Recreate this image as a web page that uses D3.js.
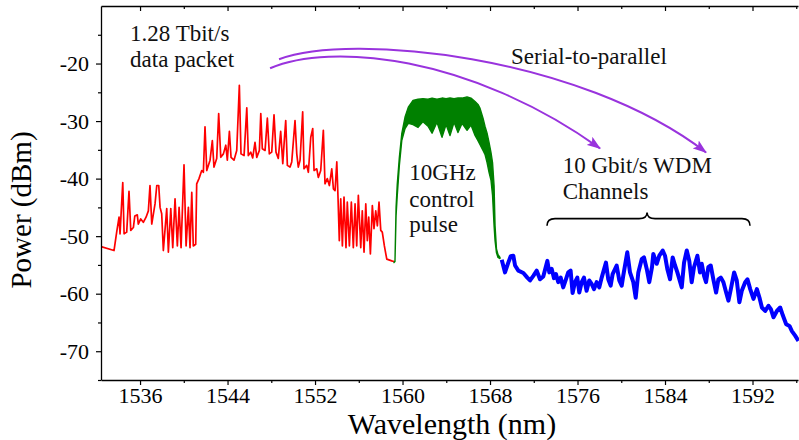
<!DOCTYPE html>
<html><head><meta charset="utf-8">
<script src="https://cdn.jsdelivr.net/npm/d3@7"></script>
<style>
html,body{margin:0;padding:0;background:#fff;}
svg{display:block;font-family:"Liberation Serif","Times New Roman",serif;}
</style></head><body>
<svg id="chart" width="799" height="440"></svg>
<script>
// ---- data ----
const redWavelength=[1532.43,1533.62,1533.87,1534.08,1534.17,1534.42,1534.54,1534.78,1534.99,1535.15,
1535.39,1535.52,1535.75,1535.84,1536.06,1536.30,1536.55,1536.76,1536.91,1537.07,
1537.37,1537.53,1537.71,1537.83,1537.98,1538.13,1538.44,1538.59,1538.81,1538.99,
1539.20,1539.41,1539.57,1539.75,1540.02,1540.21,1540.42,1540.57,1540.73,1540.87,
1541.09,1541.18,1541.39,1541.64,1541.79,1541.94,1542.10,1542.40,1542.61,1542.76,
1543.01,1543.19,1543.38,1543.62,1543.84,1543.98,1544.17,1544.32,1544.59,1544.84,
1545.08,1545.23,1545.51,1545.76,1545.90,1546.12,1546.30,1546.51,1546.67,1546.91,
1547.04,1547.18,1547.43,1547.64,1547.82,1548.04,1548.25,1548.43,1548.64,1548.86,
1549.05,1549.19,1549.32,1549.47,1549.71,1549.87,1550.17,1550.33,1550.47,1550.63,
1550.87,1550.99,1551.24,1551.39,1551.61,1551.79,1551.91,1552.16,1552.30,1552.52,
1552.76,1552.91,1553.12,1553.31,1553.53,1553.68,1553.83,1553.99,1554.10,1554.22,
1554.35,1554.50,1554.65,1554.83,1554.95,1555.14,1555.32,1555.50,1555.66,1555.81,
1555.96,1556.18,1556.32,1556.48,1556.64,1556.78,1556.91,1557.06,1557.24,1557.39,
1557.55,1557.70,1557.85,1558.01,1558.15,1558.34,1558.56,1559.01,1559.22];
const redPower=[-51.8,-52.5,-49.2,-46.7,-49.6,-40.7,-49.6,-49.3,-42.2,-49.0,
-48.5,-46.5,-46.3,-47.9,-47.0,-47.6,-46.7,-45.6,-41.2,-47.9,
-44.4,-41.2,-41.2,-45.0,-46.1,-52.5,-45.2,-52.8,-45.2,-52.0,
-43.5,-51.7,-45.0,-52.0,-37.6,-51.7,-45.0,-52.0,-42.4,-51.7,
-51.4,-40.9,-40.0,-38.6,-38.9,-31.0,-38.6,-36.8,-33.4,-38.0,
-36.5,-28.7,-36.3,-35.7,-34.2,-36.8,-31.8,-36.3,-36.8,-35.1,
-23.8,-35.7,-36.0,-27.7,-36.0,-35.4,-36.4,-33.7,-36.3,-35.1,
-28.7,-34.8,-35.1,-29.5,-35.7,-35.4,-28.9,-35.4,-36.5,-31.8,
-37.4,-33.4,-29.9,-37.7,-38.0,-37.1,-29.9,-35.7,-38.0,-36.8,
-28.4,-38.3,-37.7,-38.9,-32.8,-31.3,-38.6,-38.3,-39.8,-38.6,
-31.6,-40.9,-40.0,-41.2,-38.3,-41.8,-42.1,-37.1,-43.2,-50.8,
-43.5,-51.7,-43.2,-52.0,-44.1,-51.7,-44.1,-52.0,-44.4,-51.7,
-42.9,-52.0,-45.6,-52.8,-44.4,-50.8,-46.7,-53.1,-44.7,-48.7,
-45.6,-48.2,-44.1,-49.0,-49.3,-51.7,-54.0,-54.3,-54.4];

const greenWavelength=[1559.22,1559.31,1559.41,1559.52,1559.71,1559.93,1560.23,1560.53,1560.96,1561.42,
1561.87,1562.33,1562.70,1563.15,1563.61,1563.98,1564.34,1564.71,1565.07,1565.44,
1565.90,1566.26,1566.63,1566.90,1567.09,1567.36,1567.54,1567.73,1567.91,1568.09,
1568.23,1568.37,1568.46,1568.59,1568.73,1568.91];
const greenUpper=[-54.6,-54.3,-45.0,-40.9,-36.3,-32.2,-29.3,-27.6,-26.4,-26.2,
-26.1,-26.2,-26.0,-26.2,-26.0,-26.1,-26.0,-26.1,-26.0,-26.0,
-25.8,-26.0,-26.6,-27.1,-27.8,-29.5,-30.9,-32.1,-33.7,-35.5,
-37.2,-41.2,-48.2,-52.2,-53.2,-53.7];
const greenLower=[-54.6,-54.4,-46.4,-42.9,-37.7,-33.4,-31.3,-30.4,-30.6,-31.1,
-30.1,-30.9,-32.1,-30.2,-32.8,-30.6,-32.5,-30.2,-32.0,-30.4,
-31.6,-30.7,-32.5,-33.4,-34.1,-35.1,-35.8,-37.2,-38.9,-40.3,
-42.9,-48.2,-50.8,-52.9,-53.7,-53.9];

const blueWavelength=[1569.07,1569.37,1569.67,1569.89,1570.13,1570.29,1570.59,1571.05,1571.41,1571.66,
1571.96,1572.27,1572.57,1572.87,1573.24,1573.42,1573.64,1573.85,1574.03,1574.24,
1574.46,1574.69,1574.94,1575.15,1575.37,1575.55,1575.77,1575.98,1576.16,1576.38,
1576.59,1576.83,1577.07,1577.29,1577.51,1577.75,1577.99,1578.21,1578.60,1578.81,
1579.03,1579.21,1579.58,1579.82,1580.04,1580.18,1580.55,1580.80,1581.10,1581.32,
1581.56,1581.87,1582.08,1582.33,1582.56,1582.81,1582.93,1583.24,1583.48,1583.79,
1584.00,1584.21,1584.46,1584.70,1584.92,1585.13,1585.53,1585.74,1585.99,1586.22,
1586.44,1586.65,1586.96,1587.20,1587.36,1587.57,1587.75,1587.96,1588.18,1588.42,
1588.67,1588.88,1589.10,1589.34,1589.59,1589.80,1590.02,1590.32,1590.56,1590.80,
1591.02,1591.33,1591.54,1591.79,1592.09,1592.40,1592.64,1592.86,1593.16,1593.46,
1593.68,1593.92,1594.23,1594.53,1594.78,1595.08,1595.38,1595.60,1595.90,1596.20];
const bluePower=[-54.1,-56.3,-54.6,-53.5,-53.4,-55.1,-56.0,-56.4,-57.2,-57.7,
-56.9,-56.0,-57.5,-57.0,-54.3,-56.3,-55.7,-57.3,-56.6,-58.0,
-57.2,-58.9,-57.5,-56.3,-56.0,-59.9,-58.0,-57.2,-59.8,-58.0,
-57.2,-59.5,-57.7,-58.3,-59.2,-58.0,-58.9,-57.2,-54.6,-57.5,
-58.6,-56.6,-55.1,-57.7,-58.6,-56.9,-52.8,-56.3,-58.0,-60.7,
-56.3,-54.0,-53.7,-55.7,-58.0,-55.4,-53.1,-54.8,-53.4,-52.5,
-53.4,-55.7,-57.5,-53.7,-55.1,-56.3,-58.9,-54.6,-52.5,-54.3,
-58.0,-55.4,-53.4,-56.3,-54.8,-56.9,-58.0,-55.4,-55.1,-57.5,
-59.8,-57.5,-57.2,-58.0,-59.8,-61.2,-59.2,-56.3,-57.7,-61.5,
-59.5,-58.0,-57.5,-59.2,-60.9,-59.2,-60.7,-62.4,-63.0,-62.1,
-62.7,-64.1,-63.0,-62.4,-63.8,-65.3,-65.6,-66.5,-67.3,-68.2];

const xMajorTicks=[1536,1544,1552,1560,1568,1576,1584,1592];
const xMinorTicks=[1540,1548,1556,1564,1572,1580,1588,1596];
const yMajorTicks=[-20,-30,-40,-50,-60,-70];
const yMinorTicks=[-15,-25,-35,-45,-55,-65,-75];
const xTitle="Wavelength (nm)";
const yTitle="Power (dBm)";

// annotations (data coordinates)
const noteText=["1.28 Tbit/s","data packet","Serial-to-parallel","10 Gbit/s WDM","Channels","10GHz","control","pulse"];
const noteWavelength=[1535.09,1535.09,1569.92,1574.65,1574.65,1560.62,1560.62,1560.62];
const notePower=[-16.1,-20.6,-20.0,-39.06,-43.5,-40.3,-44.9,-49.3];
// arrows: start, control1, control2, end
const arrowWavelength=[[1548.71,1555.20,1576.23,1587.75],[1547.89,1553.37,1566.17,1578.06]];
const arrowPower=[[-19.25,-14.55,-18.55,-35.45],[-20.82,-16.29,-18.55,-34.75]];
// brace: left, middle, right ; bar level, tip level, end level
const braceWavelength=[1573.21,1582.36,1591.77];
const bracePower=[-46.95,-45.9,-48.2];

// ---- drawing ----
const svg=d3.select("#chart");
const L=101,R=798,T=6,B=380;
const x=d3.scaleLinear().domain([1532.43,1596.16]).range([L,R]);
const y=d3.scaleLinear().domain([-75,-10]).range([B,T]);
const font='"Liberation Serif","Times New Roman",serif';

svg.append("defs").append("clipPath").attr("id","plotclip")
  .append("rect").attr("x",L).attr("y",T-2).attr("width",R-L+1).attr("height",B-T+2);
const defs=svg.select("defs");
defs.append("marker").attr("id","ahead").attr("markerUnits","userSpaceOnUse")
  .attr("viewBox","0 0 14 10").attr("refX",13).attr("refY",5)
  .attr("markerWidth",14).attr("markerHeight",10).attr("orient","auto")
  .append("path").attr("d","M0,0 L14,5 L0,10 L3,5 Z").attr("fill","#9933dd");

const plot=svg.append("g").attr("clip-path","url(#plotclip)");

const redIdx=d3.range(redWavelength.length);
plot.append("path").attr("d",d3.line().x(i=>x(redWavelength[i])).y(i=>y(redPower[i]))(redIdx))
  .attr("fill","none").attr("stroke","#ff0000").attr("stroke-width",1.7).attr("stroke-linejoin","round");

const gIdx=d3.range(greenWavelength.length);
plot.append("path").attr("d",d3.area().x(i=>x(greenWavelength[i])).y0(i=>y(greenLower[i])).y1(i=>y(greenUpper[i]))(gIdx))
  .attr("fill","#008000").attr("stroke","#008000").attr("stroke-width",1.4).attr("stroke-linejoin","round");

const bIdx=d3.range(blueWavelength.length);
plot.append("path").attr("d",d3.line().x(i=>x(blueWavelength[i])).y(i=>y(bluePower[i]))(bIdx))
  .attr("fill","none").attr("stroke","#0000ff").attr("stroke-width",4).attr("stroke-linejoin","round");

// axes
function styleAxis(g){
  g.attr("font-family",font).attr("font-size",22);
  g.select(".domain").attr("stroke","#000").attr("stroke-width",1.3);
  g.selectAll(".tick line").attr("stroke","#000").attr("stroke-width",1.2);
  g.selectAll(".tick text").attr("fill","#000");
}
svg.append("g").attr("transform",`translate(0,${B})`)
  .call(d3.axisBottom(x).tickValues(xMajorTicks).tickSize(5).tickPadding(2).tickSizeOuter(0).tickFormat(d=>String(d)))
  .call(styleAxis);
svg.append("g").attr("transform",`translate(0,${B})`)
  .call(d3.axisBottom(x).tickValues(xMinorTicks).tickSize(3).tickSizeOuter(0).tickFormat(""))
  .call(styleAxis).call(g=>g.select(".domain").remove());
svg.append("g").attr("transform",`translate(0,${T})`)
  .call(d3.axisBottom(x).tickValues(xMajorTicks).tickSize(5).tickSizeOuter(0).tickFormat(""))
  .call(styleAxis);
svg.append("g").attr("transform",`translate(0,${T})`)
  .call(d3.axisBottom(x).tickValues(xMinorTicks).tickSize(3).tickSizeOuter(0).tickFormat(""))
  .call(styleAxis).call(g=>g.select(".domain").remove());
svg.append("g").attr("transform",`translate(${L},0)`)
  .call(d3.axisLeft(y).tickValues(yMajorTicks).tickSize(5).tickPadding(7).tickSizeOuter(0).tickFormat(d=>String(d)))
  .call(styleAxis);
svg.append("g").attr("transform",`translate(${L},0)`)
  .call(d3.axisLeft(y).tickValues(yMinorTicks).tickSize(3).tickSizeOuter(0).tickFormat(""))
  .call(styleAxis).call(g=>g.select(".domain").remove());

// titles
svg.append("text").attr("x",452).attr("y",434).attr("text-anchor","middle")
  .attr("font-family",font).attr("font-size",30).attr("fill","#000").text(xTitle);
svg.append("text").attr("transform","translate(31,210) rotate(-90)").attr("text-anchor","middle")
  .attr("font-family",font).attr("font-size",29).attr("fill","#000").text(yTitle);

// annotations
noteText.forEach((t,i)=>{
  svg.append("text").attr("x",x(noteWavelength[i])).attr("y",y(notePower[i]))
    .attr("font-family",font).attr("font-size",23).attr("fill","#111").text(t);
});
arrowWavelength.forEach((wl,k)=>{
  const p=wl.map((w,j)=>[x(w),y(arrowPower[k][j])]);
  const path=d3.path();
  path.moveTo(p[0][0],p[0][1]);
  path.bezierCurveTo(p[1][0],p[1][1],p[2][0],p[2][1],p[3][0],p[3][1]);
  svg.append("path").attr("d",path.toString()).attr("fill","none")
    .attr("stroke","#9933dd").attr("stroke-width",2).attr("marker-end","url(#ahead)");
});
{
  const xl=x(braceWavelength[0]),xm=x(braceWavelength[1]),xr=x(braceWavelength[2]);
  const yb=y(bracePower[0]),yt=y(bracePower[1]),ye=y(bracePower[2]);
  const r=8;
  const p=d3.path();
  p.moveTo(xl,ye);
  p.quadraticCurveTo(xl,yb,xl+r,yb);
  p.lineTo(xm-r,yb);
  p.quadraticCurveTo(xm,yb,xm,yt);
  p.quadraticCurveTo(xm,yb,xm+r,yb);
  p.lineTo(xr-r,yb);
  p.quadraticCurveTo(xr,yb,xr,ye);
  svg.append("path").attr("d",p.toString()).attr("fill","none").attr("stroke","#000").attr("stroke-width",1.6);
}
</script>
</body></html>
